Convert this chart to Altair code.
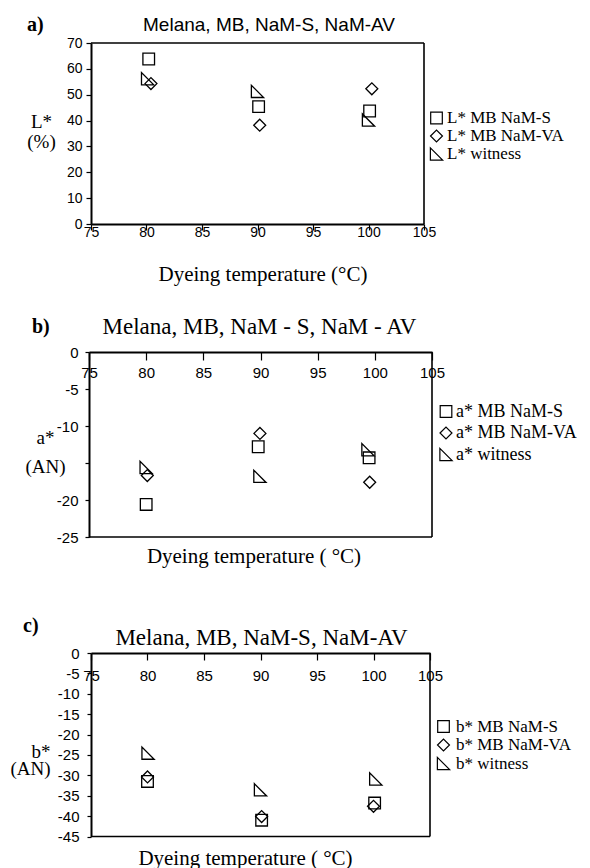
import altair as alt
import pandas as pd

# ---------------- data ----------------
SHAPES = ["square", "diamond", "M -1 -1 L -1 1 L 1 1 Z"]
SIZES = [135, 150, 100]

# panel a : L*
A_LABELS = ["L* MB NaM-S", "L* MB NaM-VA", "L* witness"]
A_X = [[80.2, 90.1, 100.1], [80.4, 90.2, 100.3], [80.1, 90.0, 100.0]]
A_Y = [[63.8, 45.4, 43.7], [54.3, 38.2, 52.3], [56.2, 51.3, 40.2]]

# panel b : a*
B_LABELS = ["a* MB NaM-S", "a* MB NaM-VA", "a* witness"]
B_X = [[80.0, 89.8, 99.5], [80.1, 89.95, 99.55], [80.0, 89.95, 99.4]]
B_Y = [[-20.6, -12.8, -14.3], [-16.7, -11.0, -17.6], [-15.6, -16.8, -13.2]]

# panel c : b*
C_LABELS = ["b* MB NaM-S", "b* MB NaM-VA", "b* witness"]
C_X = [[80.0, 90.1, 100.1], [80.0, 90.1, 100.0], [80.05, 90.0, 100.2]]
C_Y = [[-31.5, -41.0, -36.8], [-30.4, -40.1, -37.6], [-24.55, -33.55, -30.9]]

A_TICKS = [0, 10, 20, 30, 40, 50, 60, 70]
B_TICKS = [0, -5, -10, -15, -20, -25]
B_HIDDEN_LABEL = -15          # covered by the "(AN)" axis title in the original
C_TICKS = [0, -5, -10, -15, -20, -25, -30, -35, -40, -45]
X_TICKS = [75, 80, 85, 90, 95, 100, 105]

TITLES = ["Melana, MB, NaM-S, NaM-AV", "Melana, MB, NaM - S, NaM - AV", "Melana, MB, NaM-S, NaM-AV"]
PANEL_TAGS = ["a)", "b)", "c)"]
XTITLES = ["Dyeing temperature (\u00b0C)", "Dyeing temperature ( \u00b0C)", "Dyeing temperature ( \u00b0C)"]
YTITLES = [["L*", "(%)"], ["a*", "(AN)"], ["b*", "(AN)"]]

SANS = "Liberation Sans"
SERIF = "Liberation Serif"
W = 345


def frame_df(labels, xs, ys):
    rows = []
    for lab, xx, yy in zip(labels, xs, ys):
        for a, b in zip(xx, yy):
            rows.append({"temp": a, "value": b, "series": lab})
    return pd.DataFrame(rows)


one = pd.DataFrame({"k": [0]})


def panel(i, labels, xs, ys, ydom, yticks, H, xrange, yrange, xoff, xtick, xpad, xlab_fs,
          ytick, ypad, yoff, xtitle_pos, ytitle_pos, ytitle_align, ytitle_lh,
          leg, title_pos, tag_pos, title_font, title_fs, frame_y, ylabel_expr, anchor=False):
    df = frame_df(labels, xs, ys)
    xscale = alt.Scale(domain=[75, 105], range=xrange, nice=False, zero=False)
    yscale = alt.Scale(domain=ydom, range=yrange, nice=False, zero=False)
    legend = alt.Legend(title=None, orient="none", legendX=leg[0], legendY=leg[1],
                        labelFont=SERIF, labelFontSize=leg[4], labelColor="black",
                        labelOffset=leg[2], rowPadding=leg[3],
                        symbolStrokeColor="black", symbolFillColor="transparent",
                        symbolStrokeWidth=1.2, labelLimit=300)
    pts = alt.Chart(df).mark_point(filled=False, color="black", strokeWidth=1.3, opacity=1).encode(
        x=alt.X("temp:Q", scale=xscale,
                axis=alt.Axis(values=X_TICKS, tickCount=20, orient="bottom", offset=xoff,
                              tickSize=xtick, labelPadding=xpad, labelFont=SANS,
                              labelFontSize=xlab_fs, labelExpr="'' + datum.value",
                              labelOverlap=False, labelFlush=False,
                              title=XTITLES[i], titleFont=SERIF, titleFontSize=21,
                              titleFontWeight="normal", titleX=xtitle_pos[0], titleY=xtitle_pos[1],
                              titleBaseline="alphabetic", titleAlign="center")),
        y=alt.Y("value:Q", scale=yscale,
                axis=alt.Axis(values=yticks, tickCount=20, orient="left", offset=yoff,
                              tickSize=ytick, labelPadding=ypad, labelFont=SANS,
                              labelFontSize=xlab_fs, labelExpr=ylabel_expr,
                              labelOverlap=False, labelFlush=False,
                              title=YTITLES[i], titleFont=SERIF, titleFontSize=19,
                              titleFontWeight="normal", titleAngle=0, titleX=ytitle_pos[0],
                              titleY=ytitle_pos[1], titleBaseline="middle",
                              titleAlign=ytitle_align, titleLineHeight=ytitle_lh)),
        shape=alt.Shape("series:N", scale=alt.Scale(domain=labels, range=SHAPES), legend=legend),
        size=alt.Size("series:N", scale=alt.Scale(domain=labels, range=SIZES), legend=legend),
    )
    r_horiz = alt.Chart(one).mark_rule(color="black", strokeWidth=1.6).encode(
        x=alt.datum(75), x2=alt.datum(105), y=alt.datum(frame_y))
    r_vert = alt.Chart(one).mark_rule(color="black", strokeWidth=1.6).encode(
        x=alt.datum(105), y=alt.datum(ydom[0]), y2=alt.datum(ydom[1]))
    ttl = alt.Chart(one).mark_text(text=TITLES[i], font=title_font, fontSize=title_fs,
                                   align="center", baseline="alphabetic", color="black").encode(
        x=alt.value(title_pos[0]), y=alt.value(title_pos[1]))
    tag = alt.Chart(one).mark_text(text=PANEL_TAGS[i], font=SERIF, fontSize=20, fontWeight="bold",
                                   align="left", baseline="alphabetic", color="black").encode(
        x=alt.value(tag_pos[0]), y=alt.value(tag_pos[1]))
    layers = [pts, r_horiz, r_vert, ttl, tag]
    if anchor:
        # invisible corner that pins the top-left of the drawing
        layers.append(alt.Chart(one).mark_rule(opacity=0, strokeWidth=0.01).encode(
            x=alt.value(-81), x2=alt.value(-80), y=alt.value(-35), y2=alt.value(-34)))
    return alt.layer(*layers).properties(width=W, height=H)


PLAIN = "'' + datum.value"
B_EXPR = "datum.value == %d ? '' : '' + datum.value" % B_HIDDEN_LABEL

pa = panel(0, A_LABELS, A_X, A_Y, [0, 70], A_TICKS, 303, [2, 335], [181, 0], -122, 6, -4.5, 14,
           5, 4, -2, (173.5, 56), (-50, 78), "center", 20,
           (339, 66.5, 2, 0, 17), (180, -12), (-62, -12), SANS, 19, 70, PLAIN, anchor=True)
pb = panel(1, B_LABELS, B_X, B_Y, [-25, 0], B_TICKS, 307, [0, 343], [191, 6], -301, 8, 5, 15,
           4, 7, 0, (164.5, 210), (-44, 91), "center", 29,
           (348, 56.5, 1, 3.5, 18), (170.5, -12), (-57, -13), SERIF, 23, -25, B_EXPR)
pc = panel(2, C_LABELS, C_X, C_Y, [-45, 0], C_TICKS, 184, [2, 341], [183.5, 0], -184, 7, 8, 15,
           4, 8, -2, (156, 211), (-41, 98), "right", 17,
           (346, 65, 4, 0.5, 17), (172.5, -8), (-66, -21), SERIF, 23, -45, PLAIN)

chart = alt.vconcat(pa, pb, pc, spacing=0, bounds="flush").resolve_scale(
    x="independent", y="independent", shape="independent", size="independent"
).resolve_legend(shape="independent", size="independent").properties(
    padding=0, background="white",
).configure_view(stroke=None).configure_axis(
    grid=False, domainColor="black", domainWidth=2, tickColor="black", tickWidth=1.2,
    labelColor="black", titleColor="black"
)

chart.save("out.html", embed_options={"renderer": "svg", "actions": False})
